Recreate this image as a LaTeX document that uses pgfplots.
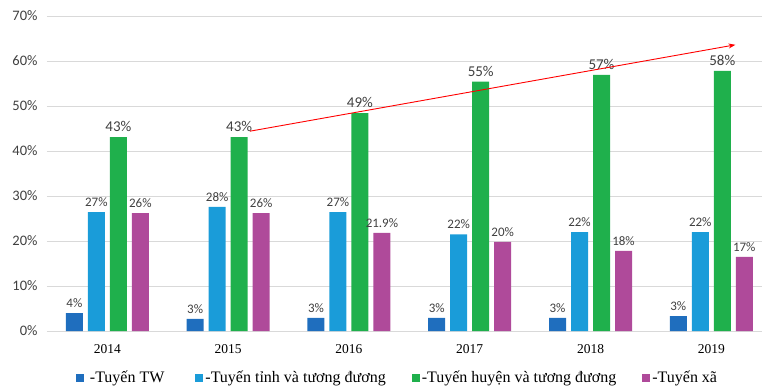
\documentclass[border=0pt]{standalone}
\usepackage{pgfplots}
\pgfplotsset{compat=1.18}
\usepackage{pgfplotstable}
\usepackage{fontspec}
\setmainfont{Liberation Serif}
\newfontfamily\carlito{Carlito}
\usetikzlibrary{arrows.meta}
\definecolor{cTW}{HTML}{1F6EBE}
\definecolor{cTinh}{HTML}{1A9CD9}
\definecolor{cHuyen}{HTML}{1FB04C}
\definecolor{cXa}{HTML}{AF4A9A}
\definecolor{lbl}{HTML}{404040}
\pgfplotstableread{
x tw twl tinh tinhl huyen huyenl xa xal
0 4.0 4 26.4 27 43.1 43 26.2 26
1 2.7 3 27.6 28 43.1 43 26.2 26
2 2.9 3 26.4 27 48.4 49 21.8 21.9
3 2.9 3 21.5 22 55.4 55 19.8 20
4 2.9 3 22.0 22 56.9 57 17.8 18
5 3.3 3 22.0 22 57.8 58 16.5 17
}\datatable
\pgfplotsset{common/.style={
  scale only axis,
  width=715pt, height=315pt,
  xmin=-0.5, xmax=5.42,
  ymin=0, ymax=70,
  clip=false,
}}
\begin{document}
\begin{tikzpicture}
\begin{axis}[
  common,
  ybar=5pt, bar width=17pt,
  xtick={0,1,2,3,4,5},
  xticklabels={2014,2015,2016,2017,2018,2019},
  ytick={0,10,...,70},
  yticklabel={\pgfmathprintnumber{\tick}\%},
  /pgf/number format/assume math mode=true,
  yticklabel style={font=\carlito\fontsize{14.5}{14.5}\selectfont, text=lbl, xshift=-6pt},
  xticklabel style={font=\fontsize{13.5}{13.5}\selectfont, text=black, yshift=-10pt},
  major tick length=0pt,
  axis line style={draw=none},
  ymajorgrids, grid style={draw=black!15, line width=0.8pt},
  nodes near coords={\pgfplotspointmeta\%},
  point meta=explicit symbolic,
  every node near coord/.append style={font=\carlito\fontsize{13}{13}\selectfont, text=lbl, inner sep=2pt, yshift=3pt},
  legend columns=4,
  legend style={draw=none, fill=none, at={(0.036,-0.149)}, anchor=west,
    font=\fontsize{16}{16}\selectfont,
    /tikz/every even column/.append style={column sep=24pt}},
  legend image code/.code={\fill[#1] (0pt,-4pt) rectangle (8pt,4pt);},
]
\addplot[fill=cTW, draw=none] table[x=x, y=tw, meta=twl] {\datatable};
\addlegendentry{\ -Tuyến TW\rule{5pt}{0pt}}
\addplot[fill=cTinh, draw=none] table[x=x, y=tinh, meta=tinhl] {\datatable};
\addlegendentry{-Tuyến tỉnh và tương đương}
\addplot[fill=cHuyen, draw=none, every node near coord/.append style={font=\carlito\fontsize{15}{15}\selectfont}] table[x=x, y=huyen, meta=huyenl] {\datatable};
\addlegendentry{-Tuyến huyện và tương đương}
\addplot[fill=cXa, draw=none] table[x=x, y=xa, meta=xal] {\datatable};
\addlegendentry{-Tuyến xã}
\coordinate (bl) at (rel axis cs:0,0);
\coordinate (tr) at (rel axis cs:1,1);
\end{axis}
\begin{axis}[common, hide axis]
\addplot[red, line width=0.9pt, mark=none, -{Stealth[length=7pt,width=5pt]}] coordinates {(1.18,44.4) (5.2,63.6)};
\end{axis}
\pgfresetboundingbox
\path ([xshift=-47pt,yshift=-55pt]bl) rectangle ([yshift=16pt]tr);
\end{tikzpicture}
\end{document}
